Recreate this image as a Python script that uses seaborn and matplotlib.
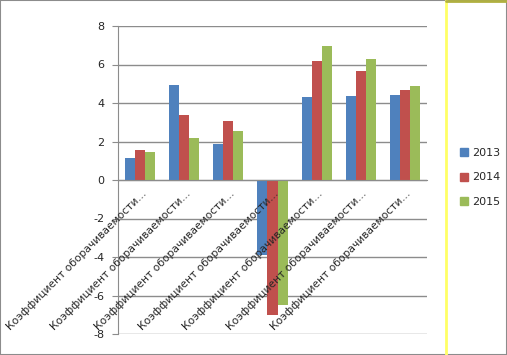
import pandas as pd
import seaborn as sns
import matplotlib.pyplot as plt
import matplotlib.transforms as mtransforms
from matplotlib.lines import Line2D

# ---------------------data--------------------- #
categories = ["Коэффициент оборачиваемости…"] * 7
years = ["2013", "2014", "2015"]
values_2013 = [1.12, 4.95, 1.86, -3.9, 4.3, 4.35, 4.4]
values_2014 = [1.56, 3.4, 3.05, -7.0, 6.2, 5.65, 4.65]
values_2015 = [1.45, 2.17, 2.56, -6.5, 6.95, 6.28, 4.9]
colors = ["#4F81BD", "#C0504D", "#9BBB59"]

rows = []
for year, vals in zip(years, [values_2013, values_2014, values_2015]):
    for i, v in enumerate(vals):
        rows.append({"group": i, "year": year, "value": v})
df = pd.DataFrame(rows)

# ---------------------canvas--------------------- #
sns.set_style("white")
plt.rcParams["font.family"] = ["DejaVu Sans"]
fig = plt.figure(figsize=(5.07, 3.55), dpi=100)
ax = fig.add_axes([118 / 507, 1 - 334 / 355, (427 - 118) / 507, (334 - 26) / 355])

sns.barplot(data=df, x="group", y="value", hue="year", palette=colors,
            width=0.68, ax=ax, edgecolor="none", saturation=1, legend=True)

ax.set_ylim(-8, 8)
ax.set_xlim(-0.5, 6.5)
ax.set_yticks(range(-8, 9, 2))
ax.set_yticklabels([str(v) for v in range(-8, 9, 2)], fontsize=8)
ax.yaxis.grid(True, color="#8c8c8c", linewidth=1.0)
ax.set_axisbelow(True)
ax.xaxis.set_zorder(5)  # category labels drawn over the bars, like the original
ax.set_xlabel("")
ax.set_ylabel("")

ax.spines["top"].set_visible(False)
ax.spines["right"].set_visible(False)
ax.spines["left"].set_color("#8c8c8c")
ax.spines["bottom"].set_color("#8c8c8c")
ax.spines["bottom"].set_position(("data", 0))
ax.tick_params(axis="y", length=4, color="#8c8c8c", pad=6, left=True)
ax.tick_params(axis="x", length=0, pad=6)
ax.set_xticks(range(len(categories)))
ax.set_xticklabels(categories, rotation=45, ha="right",
                   rotation_mode="anchor", fontsize=7.7)
shift = mtransforms.ScaledTranslation(1 / 100, 0, fig.dpi_scale_trans)
for lab in ax.get_xticklabels():
    lab.set_transform(lab.get_transform() + shift)

# legend
handles = [Line2D([0], [0], marker="s", linestyle="", color=c, markersize=6)
           for c in colors]
ax.legend(handles, years, loc="center left", bbox_to_anchor=(450 / 507, 0.5),
          bbox_transform=fig.transFigure, frameon=False, fontsize=8,
          labelspacing=1.3, handletextpad=0.3, handlelength=0.8)

# frame around the picture and the yellow edge line
fig.patches.append(plt.Rectangle((0, 0), 1, 1, transform=fig.transFigure,
                                 fill=False, edgecolor="#8c8c8c", linewidth=1.5))
fig.add_artist(Line2D([446 / 507, 446 / 507], [0, 1], color="#ffff66",
                      linewidth=2, transform=fig.transFigure))
fig.add_artist(Line2D([446 / 507, 1], [0.998, 0.998], color="#b0b040",
                      linewidth=2, transform=fig.transFigure))

plt.savefig("out.png", dpi=100)
plt.close()
